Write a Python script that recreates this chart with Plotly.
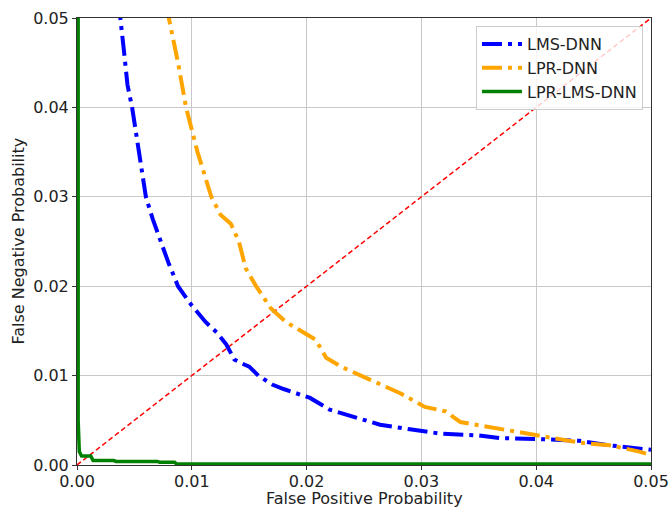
import plotly.graph_objects as go

# LMS-DNN
lms_fpr = [0.0036, 0.0038, 0.0041, 0.0044, 0.0048, 0.0054, 0.0060, 0.0066, 0.0073, 0.0080, 0.0088, 0.0099,
           0.0112, 0.0122, 0.0130, 0.0137, 0.0143, 0.0150, 0.0158, 0.0170, 0.0180, 0.0203, 0.0220,
           0.0238, 0.0264, 0.0290, 0.0317, 0.0350, 0.0369, 0.0403, 0.0438, 0.0464, 0.0500]
lms_fnr = [0.0520, 0.0500, 0.0462, 0.0425, 0.0400, 0.0350, 0.0300, 0.0275, 0.0250, 0.0225, 0.0200, 0.0180,
           0.0160, 0.0148, 0.0135, 0.0118, 0.0114, 0.0110, 0.0100, 0.0090, 0.0085, 0.0075, 0.0062,
           0.0055, 0.0045, 0.0040, 0.0035, 0.0033, 0.0030, 0.0029, 0.0027, 0.0022, 0.0017]

# LPR-DNN
lpr_fpr = [0.0078, 0.0080, 0.0088, 0.0095, 0.0105, 0.0117, 0.0125, 0.0134, 0.0141, 0.0147, 0.0156,
           0.0169, 0.0182, 0.0195, 0.0208, 0.0217, 0.0230, 0.0256, 0.0282, 0.0303, 0.0321, 0.0334,
           0.0369, 0.0390, 0.0412, 0.0438, 0.0464, 0.0490, 0.0500]
lpr_fnr = [0.0515, 0.0500, 0.0450, 0.0400, 0.0350, 0.0300, 0.0280, 0.0270, 0.0250, 0.0220, 0.0200,
           0.0175, 0.0160, 0.0150, 0.0140, 0.0120, 0.0110, 0.0095, 0.0080, 0.0065, 0.0060, 0.0048,
           0.0040, 0.0035, 0.0030, 0.0025, 0.0022, 0.0015, 0.0011]

# LPR-LMS-DNN
both_fpr = [0.0001, 0.0001, 0.0002, 0.0004, 0.0012, 0.0014, 0.0032, 0.0034, 0.0070, 0.0072, 0.0085, 0.0087, 0.0500]
both_fnr = [0.0520, 0.0050, 0.0015, 0.0010, 0.0010, 0.0005, 0.0005, 0.0004, 0.0004, 0.0003, 0.0003, 0.0001, 0.0001]

diag = [0.0, 0.05]
ticks = [0.00, 0.01, 0.02, 0.03, 0.04, 0.05]
x_title = "False Positive Probability"
y_title = "False Negative Probability"

fig = go.Figure()
fig.add_trace(go.Scatter(x=diag, y=diag, mode="lines", showlegend=False,
                         line=dict(color="red", width=1.5, dash="5px,3px")))
fig.add_trace(go.Scatter(x=lms_fpr, y=lms_fnr, mode="lines", name="LMS-DNN",
                         line=dict(color="blue", width=4, dash="20px,6px,4px,6px")))
fig.add_trace(go.Scatter(x=lpr_fpr, y=lpr_fnr, mode="lines", name="LPR-DNN",
                         line=dict(color="orange", width=4, dash="20px,6px,4px,6px")))
fig.add_trace(go.Scatter(x=both_fpr, y=both_fnr, mode="lines", name="LPR-LMS-DNN",
                         line=dict(color="green", width=3.5)))

axis_common = dict(range=[0, 0.05], tickvals=ticks, tickformat=".2f",
                   showgrid=True, gridcolor="#c8c8c8", gridwidth=1,
                   showline=True, linecolor="#333333", linewidth=1, mirror=True,
                   ticks="outside", ticklen=4, tickcolor="#333333",
                   tickfont=dict(size=16, color="#222222"), zeroline=False,
                   automargin=False, ticklabeloverflow="allow")

fig.update_layout(
    width=669, height=508,
    margin=dict(l=77, r=18, t=18, b=43),
    paper_bgcolor="white", plot_bgcolor="white",
    font=dict(family="DejaVu Sans", color="#222222"),
    xaxis=dict(axis_common, ticklabelstandoff=-2),
    yaxis=axis_common,
    legend=dict(x=0.986, y=0.982, xanchor="right", yanchor="top",
                bgcolor="rgba(255,255,255,0.8)", bordercolor="#cccccc", borderwidth=1,
                font=dict(size=16, color="#222222"), itemwidth=40),
    annotations=[
        dict(text=x_title, xref="paper", yref="paper", x=0.5, y=0, xanchor="center",
             yanchor="middle", yshift=-33, showarrow=False, font=dict(size=16)),
        dict(text=y_title, xref="paper", yref="paper", x=0, y=0.5, xanchor="center",
             yanchor="middle", xshift=-59, textangle=-90, showarrow=False, font=dict(size=16)),
    ],
)

fig.write_html("out.html")
